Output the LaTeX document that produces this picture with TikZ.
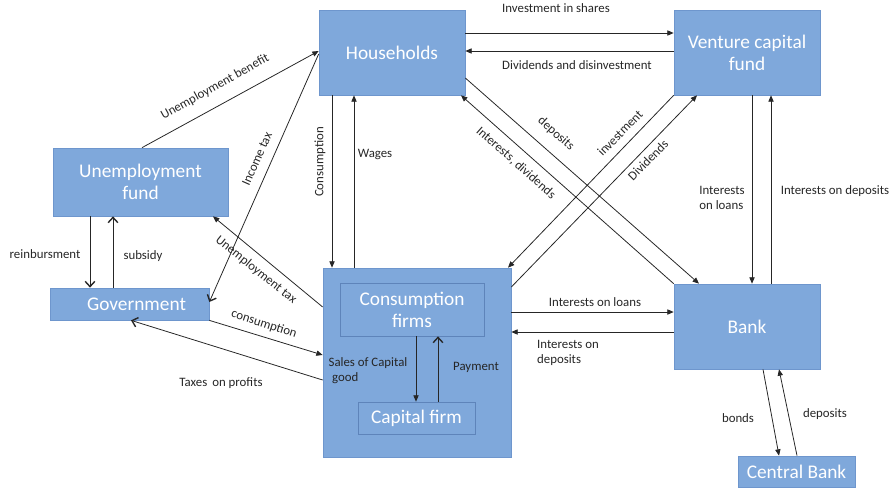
\documentclass[tikz,border=0pt]{standalone}
\usepackage{fontspec}
\setmainfont{Carlito}
\usepackage{xcolor}
\usetikzlibrary{arrows.meta}

\definecolor{boxfill}{RGB}{127,168,219}
\definecolor{boxline}{RGB}{110,150,205}
\definecolor{innerline}{RGB}{94,132,186}

\tikzset{
  block/.style={draw=boxline, fill=boxfill, rectangle, text=white, align=center,
    inner sep=0pt, font=\fontsize{11}{12.5}\selectfont},
  flow/.style={-{Triangle[length=3.6pt,width=3pt]}, line width=0.45pt, black!85},
  flowopen/.style={-{Straight Barb[length=3pt,width=5.5pt,line width=0.8pt]}, line width=0.45pt, black!85},
  lbl/.style={font=\fontsize{7.3}{8.6}\selectfont, inner sep=0pt, text=black!85},
}

\begin{document}
\begin{tikzpicture}[x=0.02cm, y=-0.02cm]
    \useasboundingbox (0,0) rectangle (891,487);

    % sectors
    \node[block, minimum width=2.92cm, minimum height=1.7cm] (hh) at (392,52.5) {Households};
    \node[block, minimum width=2.92cm, minimum height=1.7cm] (vc) at (747,52.5) {Venture capital\\fund};
    \node[block, minimum width=3.5cm, minimum height=1.36cm] (uf) at (140.5,182) {Unemployment\\fund};
    \node[block, minimum width=3.18cm, minimum height=0.64cm] (gov) at (129.5,304) {\hspace{8pt}Government};
    \node[block, minimum width=2.92cm, minimum height=1.7cm] (bank) at (747,326.5) {Bank};
    \node[block, minimum width=2.34cm, minimum height=0.62cm] (cb) at (796.5,471.5) {Central Bank};

    % firms: outer box with the two kinds of firms inside
    \node[block, minimum width=3.76cm, minimum height=3.78cm] (cons) at (417,362.5) {};
    \node[block, draw=innerline, minimum width=2.88cm, minimum height=1.06cm] (cf) at (412,309.5) {Consumption\\firms};
    \node[block, draw=innerline, minimum width=2.34cm, minimum height=0.64cm] (kf) at (416.5,418) {Capital firm};

    % households <-> venture capital fund
    \draw[flow] (hh.east |- 0,33) -- (vc.west |- 0,33);
    \draw[flow] (vc.west |- 0,51) -- (hh.east |- 0,51);
    \node[lbl] (t-shares) at (556,8) {Investment in shares};
    \node[lbl] (t-divdis) at (577,65) {Dividends and disinvestment};

    % public side
    \draw[flow] (142,0 |- uf.north) -- (hh.west |- 0,51);
    \draw[flowopen] (hh.west |- 0,54) -- (gov.east |- 0,302);
    \draw[flow] (cons.west |- 0,307) -- (213,0 |- uf.south);
    \draw[flowopen] (90,0 |- uf.south) -- (90,0 |- gov.north);
    \draw[flowopen] (113,0 |- gov.north) -- (113,0 |- uf.south);
    \draw[flow] (gov.south east) -- (cons.west |- 0,355);
    \draw[flowopen] (cons.west |- 0,380) -- (131,0 |- gov.south);
    \node[lbl, rotate=29] (t-ubenefit) at (215,87) {Unemployment benefit};
    \node[lbl, rotate=66] (t-inctax) at (257,159) {Income tax};
    \node[lbl, rotate=-38.7] (t-utax) at (256,270) {Unemployment tax};
    \node[lbl] (t-reimb) at (45,254) {reinbursment};
    \node[lbl] (t-subsidy) at (143,256) {subsidy};
    \node[lbl, rotate=-18] (t-govcons) at (264,324) {consumption};
    \node[lbl] (t-proftax) at (221,383) {Taxes\, on profits};

    % households <-> firms
    \draw[flow] (332,0 |- hh.south) -- (332,0 |- cons.north);
    \draw[flow] (354,0 |- cons.north) -- (354,0 |- hh.south);
    \node[lbl, rotate=90] (t-cons) at (320,162) {Consumption};
    \node[lbl] (t-wages) at (375,154) {Wages};

    % crossing flows
    \draw[flow] (hh.east |- 0,78) -- (699,0 |- bank.north);
    \draw[flow] (bank.north west) -- (461,0 |- hh.south);
    \draw[flow] (vc.south west) -- (508,0 |- cons.north);
    \draw[flow] (cons.east |- 0,287) -- (697,0 |- vc.south);
    \node[lbl, rotate=-41.6] (t-hhdep) at (556,134) {deposits};
    \node[lbl, rotate=-41.6] (t-intdiv) at (516,163) {Interests, dividends};
    \node[lbl, rotate=45.5] (t-invest) at (620,133) {investment};
    \node[lbl, rotate=45.5] (t-vcdiv) at (648,160) {Dividends};

    % venture capital fund <-> bank
    \draw[flow] (752,0 |- vc.south) -- (752,0 |- bank.north);
    \draw[flow] (771,0 |- bank.north) -- (771,0 |- vc.south);
    \node[lbl, align=left] (t-vcloans) at (722,198) {Interests\\on loans};
    \node[lbl] (t-vcdep) at (835,191) {Interests on deposits};

    % firms <-> bank
    \draw[flow] (cons.east |- 0,312) -- (bank.west |- 0,312);
    \draw[flow] (bank.west |- 0,332) -- (cons.east |- 0,332);
    \node[lbl] (t-loans) at (595,302) {Interests on loans};
    \node[lbl, align=left] (t-firmdep) at (568,353) {Interests on\\deposits};

    % bank <-> central bank
    \draw[flow] (763,0 |- bank.south) -- (779,0 |- cb.north);
    \draw[flow] (797,0 |- cb.north) -- (779,0 |- bank.south);
    \node[lbl] (t-bonds) at (738,418) {bonds};
    \node[lbl] (t-cbdep) at (825,414) {deposits};

    % inside the firm sector
    \draw[flow] (416,0 |- cf.south) -- (416,0 |- kf.north);
    \draw[flowopen] (438,0 |- kf.north) -- (438,0 |- cf.south);
    \node[lbl, align=left] (t-sales) at (368,371) {Sales of Capital\\\hspace{2pt}good};
    \node[lbl] (t-payment) at (476,367) {Payment};
\end{tikzpicture}
\end{document}
